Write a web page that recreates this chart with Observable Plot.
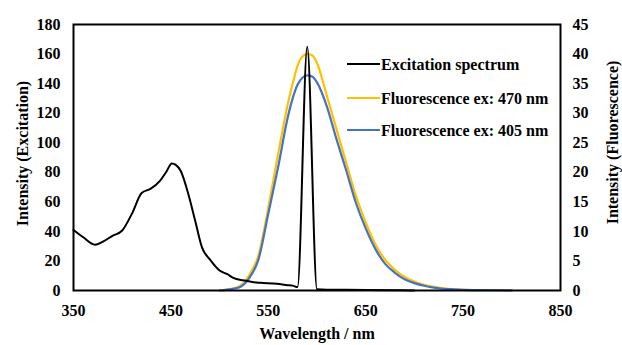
<!DOCTYPE html>
<html>
<head>
<meta charset="utf-8">
<script src="https://cdn.jsdelivr.net/npm/d3@7"></script>
<script src="https://cdn.jsdelivr.net/npm/@observablehq/plot@0.6"></script>
<style>
  html, body { margin: 0; padding: 0; background: #fff; }
  #chart svg { display: block; }
</style>
</head>
<body>
<div id="chart"></div>
<script>
// Excitation spectrum (left axis)
const excWl  = [350, 360, 372, 380, 390, 400, 410, 420, 429, 439, 445, 451, 455, 460, 468, 475, 482, 490, 500, 508, 514, 525, 535, 542, 559, 570, 575, 580, 590, 600, 610, 650, 700];
const excVal = [41, 36, 31, 33, 37, 40.6, 52, 66, 68.8, 74.4, 80, 86, 85, 81, 65, 47, 29, 21, 13.5, 11, 8.5, 6.8, 5.6, 5.2, 4.5, 3.6, 3.3, 2.3, 165, 0.8, 0.5, 0.4, 0];

// Fluorescence (right axis)
const flWl   = [500, 510, 520, 530, 540, 550, 560, 570, 575, 580, 585, 590, 595, 600, 610, 620, 630, 640, 650, 660, 670, 680, 690, 700, 710, 720, 730, 740, 750, 760, 780, 800];
const fl470  = [0, 0.2, 0.7, 2.5, 6, 14, 23, 31.5, 35, 38, 39.6, 40.0, 39.8, 38.5, 33, 27.3, 21.6, 16, 11.5, 7.8, 5.2, 3.5, 2.3, 1.5, 0.95, 0.6, 0.35, 0.2, 0.12, 0.08, 0.05, 0.03];
const fl405  = [0, 0.2, 0.5, 2, 5.3, 13, 20.8, 29.3, 32.5, 34.8, 36, 36.4, 36.2, 35.2, 31.2, 25.6, 20.3, 14.8, 10.5, 7.0, 4.5, 3.0, 1.9, 1.25, 0.8, 0.5, 0.3, 0.2, 0.12, 0.08, 0.05, 0.03];

const xTicks = [350, 450, 550, 650, 750, 850];
const yLeftTicks = [0, 20, 40, 60, 80, 100, 120, 140, 160, 180];
const yRightTicks = [0, 5, 10, 15, 20, 25, 30, 35, 40, 45];

const seriesNames = ["Excitation spectrum", "Fluorescence ex: 470 nm", "Fluorescence ex: 405 nm"];
const seriesColors = ["#000000", "#FFC000", "#4472C4"];

const ratio = 180 / 45;
const exc = excWl.map((w, i) => ({w, v: excVal[i]}));
const f470 = flWl.map((w, i) => ({w, v: fl470[i] * ratio}));
const f405 = flWl.map((w, i) => ({w, v: fl405[i] * ratio}));

const font = "'Liberation Serif', 'Times New Roman', serif";
const fs = 16;

const chart = Plot.plot({
  width: 622,
  height: 345,
  marginLeft: 73,
  marginRight: 62,
  marginTop: 24,
  marginBottom: 55,
  style: {fontFamily: font, fontSize: fs + "px", fontWeight: "bold", color: "#000", background: "#fff"},
  x: {domain: [350, 850]},
  y: {domain: [0, 180]},
  marks: [
    Plot.axisX({ticks: xTicks, tickSize: 0, tickPadding: 14, label: null, fontSize: fs}),
    Plot.axisY({ticks: yLeftTicks, tickSize: 0, tickPadding: 13, label: null, fontSize: fs}),
    Plot.axisY({anchor: "right", ticks: yRightTicks.map(t => t * ratio), tickFormat: d => d / ratio, tickSize: 0, tickPadding: 12, textAnchor: "start", label: null, fontSize: fs}),
    Plot.line(f470, {x: "w", y: "v", stroke: seriesColors[1], strokeWidth: 2.2, curve: "monotone-x"}),
    Plot.line(f405, {x: "w", y: "v", stroke: seriesColors[2], strokeWidth: 2.2, curve: "monotone-x"}),
    Plot.line(exc, {x: "w", y: "v", stroke: seriesColors[0], strokeWidth: 2, curve: "monotone-x"}),
    Plot.frame({stroke: "#000", strokeWidth: 2}),
    Plot.text(["Wavelength / nm"], {frameAnchor: "bottom", dy: 48, textAnchor: "middle", fontSize: fs, fontWeight: "bold"}),
    Plot.text(["Intensity (Excitation)"], {frameAnchor: "left", dx: -51, dy: -4, rotate: -90, textAnchor: "middle", fontSize: fs, fontWeight: "bold"}),
    Plot.text(["Intensity (Fluorescence)"], {frameAnchor: "right", dx: 52, dy: -15, rotate: -90, textAnchor: "middle", fontSize: fs, fontWeight: "bold"})
  ]
});

// Legend
const svg = d3.select(chart);
const lg = svg.append("g").attr("font-family", font).attr("font-size", fs).attr("font-weight", "bold").attr("text-anchor", "start");
const rows = [64, 98, 130];
seriesNames.forEach((name, i) => {
  lg.append("line").attr("x1", 347).attr("x2", 380).attr("y1", rows[i]).attr("y2", rows[i])
    .attr("stroke", seriesColors[i]).attr("stroke-width", 2.2);
  lg.append("text").attr("x", 381).attr("y", rows[i]).attr("dy", "0.35em").attr("fill", "#000").text(name);
});

document.getElementById("chart").appendChild(chart);
</script>
</body>
</html>
